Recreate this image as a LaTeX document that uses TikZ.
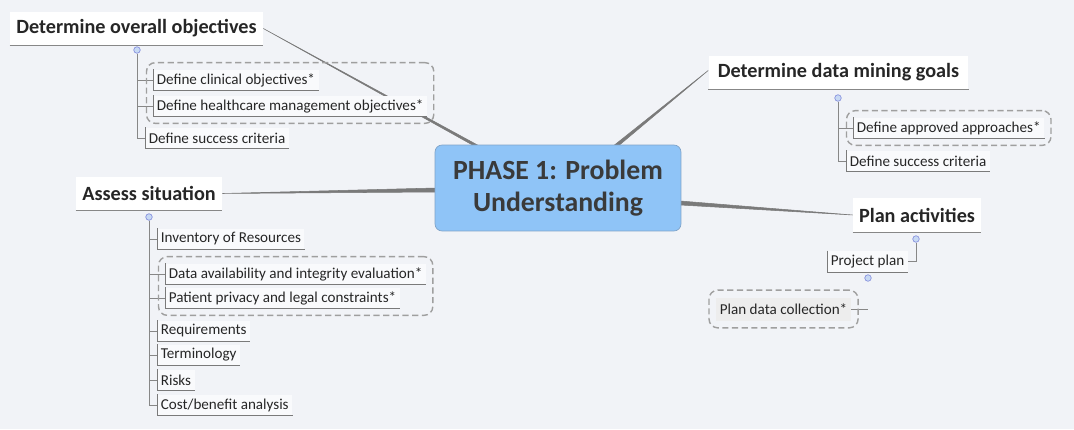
\documentclass[tikz,border=0pt]{standalone}
\usepackage{fontspec}
\setmainfont{Carlito}
\usepackage{xcolor}
\usetikzlibrary{positioning, fit, calc, backgrounds}
\definecolor{mapbg}{HTML}{F1F3F7}
\definecolor{rootblue}{HTML}{8FC4F7}
\definecolor{rootedge}{HTML}{7FA3C8}
\definecolor{linegrey}{HTML}{7A7A7A}
\definecolor{inkgrey}{HTML}{3A3A3A}
\definecolor{knobblue}{HTML}{C7D9F4}

\begin{document}
\begin{tikzpicture}[
    x=0.02cm, y=-0.02cm,
    root/.style={rectangle, draw=rootedge, fill=rootblue, rounded corners=4pt,
                 minimum width=4.92cm, minimum height=1.72cm, align=center,
                 font=\fontsize{15.8}{17.8}\selectfont\bfseries, text=inkgrey},
    topic/.style={rectangle, fill=white, inner xsep=3pt,
                  minimum height=0.68cm,
                  font=\fontsize{11.5}{13.5}\selectfont\bfseries, text=black!85},
    sub/.style={rectangle, fill=mapbg!40!white, inner xsep=2pt, inner ysep=1pt,
                minimum height=0.42cm, anchor=west,
                font=\fontsize{8.6}{10}\selectfont, text=black!85},
    group/.style={draw=gray!75, dashed, dash pattern=on 3.5pt off 2pt,
                  line width=0.8pt, rounded corners=5pt, inner sep=0.13cm},
    knob/.style={circle, draw=knobblue!70!blue!80!gray, fill=knobblue,
                 inner sep=0pt, minimum size=0.13cm},
    branch/.style={draw=linegrey!90, line width=0.5pt},
    taper/.style={fill=linegrey, draw=linegrey, line width=0.3pt},
    topicline/.style={draw=linegrey!90, line width=0.6pt},
    subline/.style={draw=linegrey, line width=0.5pt},
]
\useasboundingbox (0,0) rectangle (1074,429);

% ============== central topic ==============
\node[root] (ph) at (558,188) {PHASE 1: Problem\\Understanding};

% ============== main topics ==============
\node[topic, minimum width=5.06cm] (goal1) at (136.5,28.5) {Determine overall objectives};
\node[topic, minimum width=2.92cm] (assess) at (149,193.5) {Assess situation};
\node[topic, minimum width=5.2cm] (goal2) at (838.5,72.5) {Determine data mining goals};
\node[topic, minimum width=2.56cm] (plan) at (917,215) {Plan activities};

% ============== collapse knobs ==============
\node[knob] (k1) at (137,50) {};
\node[knob] (k2) at (149,217) {};
\node[knob] (k3) at (838,98) {};
\node[knob] (k4) at (916,239) {};
\node[knob] (k5) at (868,278) {};

% ============== subtopics: overall objectives ==============
\node[sub] (clin) at (153,80) {Define clinical objectives*};
\node[sub] (health) at (153,106) {Define healthcare management objectives*};
\node[sub] (succ1) at (145,138) {Define success criteria};
\node[group, fit=(clin)(health)] (g1) {};

% ============== subtopics: assess situation ==============
\node[sub] (inv) at (157,239) {Inventory of Resources};
\node[sub] (avail) at (165,274) {Data availability and integrity evaluation*};
\node[sub] (privacy) at (165,298) {Patient privacy and legal constraints*};
\node[sub] (req) at (157,331) {Requirements};
\node[sub] (term) at (157,355) {Terminology};
\node[sub] (risks) at (157,380) {Risks};
\node[sub] (cost) at (157,405) {Cost/benefit analysis};
\node[group, fit=(avail)(privacy)] (g2) {};

% ============== subtopics: data mining goals ==============
\node[sub] (approved) at (853,128) {Define approved approaches*};
\node[sub] (succ2) at (846,161) {Define success criteria};
\node[group, fit=(approved)] (g3) {};

% ============== subtopics: plan activities ==============
\node[sub] (pplan) at (827,261.5) {Project plan};
\node[sub, fill=black!7, minimum height=0.46cm] (pdc) at (716,309) {Plan data collection*};
\node[group, fit=(pdc), inner sep=0.14cm] (g4) {};
\coordinate (tk) at (868,309);

% ============== connectors ==============
\begin{scope}[on background layer]
\fill[mapbg] (0,0) rectangle (1074,429);

\filldraw[taper] ($(ph.north west)+(39,1)$) -- ($(ph.north west)+(44,1)$) -- (goal1.east) -- cycle;
\filldraw[taper] ($(ph.north west)+(179,1)$) -- ($(ph.north west)+(184,1)$) -- ($(goal2.west)+(0,-2)$) -- cycle;
\filldraw[taper] ($(ph.west)+(1,0)$) -- ($(ph.west)+(1,4)$) -- (assess.east) -- cycle;
\filldraw[taper] ($(ph.east)+(-1,13)$) -- ($(ph.east)+(-1,17)$) -- (plan.west) -- cycle;

\foreach \n in {clin, health, succ1}
    \draw[branch] (k1) |- (\n.west);
\foreach \n in {inv, avail, privacy, req, term, risks, cost}
    \draw[branch] (k2) |- (\n.west);
\foreach \n in {approved, succ2}
    \draw[branch] (k3) |- (\n.west);
\draw[branch] (k4) |- (pplan.east);
\draw[branch] (pdc.east) -- (tk);
\end{scope}

% ============== box edges ==============
\foreach \n in {goal1, assess, goal2, plan}
    \draw[topicline] (\n.south west) -- (\n.south east);
\foreach \n in {clin, health, succ1, inv, avail, privacy, req, term, risks, cost, approved, succ2, pplan}
    \draw[subline] (\n.north west) |- (\n.south east);

\end{tikzpicture}
\end{document}
